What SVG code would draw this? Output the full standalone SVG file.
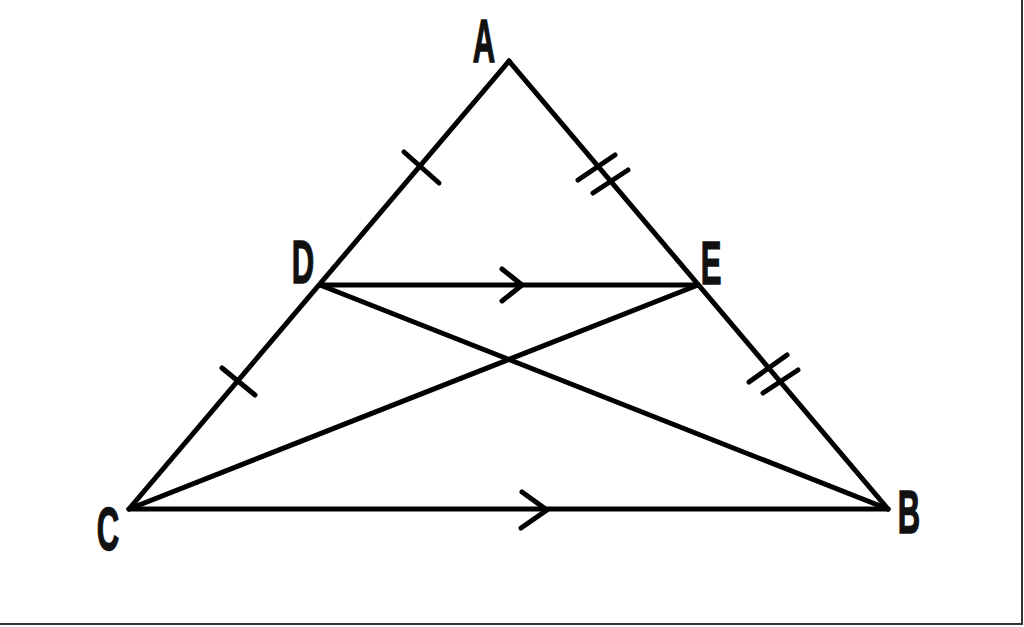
<svg xmlns="http://www.w3.org/2000/svg" width="1024" height="627" viewBox="0 0 1024 627">
<style>
.ln{stroke:#000;stroke-width:5;fill:none;stroke-linecap:round;stroke-linejoin:round}
.lbl{font-family:"Liberation Sans",Arial,sans-serif;font-weight:bold;font-size:62px;fill:#111;stroke:#111;stroke-width:1.5;text-anchor:middle}
</style>
<rect x="0" y="0" width="1024" height="627" fill="#fff"/>
<g id="frame"><path d="M1022,0 V624 H0" stroke="#333" stroke-width="2" fill="none"/></g>
<g id="connectors" class="ln">
<path id="AC" d="M509,61 L129,509"/>
<path id="AB" d="M509,61 L888,509"/>
<path id="CB" d="M129,509 L888,509"/>
<path id="DE" d="M320,285 L698,285"/>
<path id="DB" d="M320,285 L888,509"/>
<path id="CE" d="M129,509 L698,285"/>
<path id="arrowDE" d="M502,269 L522,285 L502,301"/>
<path id="arrowCB" d="M522,492 L547,510 L521,528"/>
<path id="tickAD" d="M404,152 L439,183"/>
<path id="tickDC" d="M222,368 L255,395"/>
<path id="tickAE1" d="M578,180 L615,155"/>
<path id="tickAE2" d="M593,193 L628,170"/>
<path id="tickEB1" d="M749,382 L787,355"/>
<path id="tickEB2" d="M763,393 L798,370"/>
</g>
<g id="A"><text class="lbl" transform="translate(484,62) scale(0.5,1)">A</text></g>
<g id="D"><text class="lbl" transform="translate(303,283) scale(0.5,1)">D</text></g>
<g id="E"><text class="lbl" transform="translate(711,284) scale(0.5,1)">E</text></g>
<g id="C"><text class="lbl" transform="translate(108,550) scale(0.5,1)">C</text></g>
<g id="B"><text class="lbl" transform="translate(909,533) scale(0.5,1)">B</text></g>
</svg>
